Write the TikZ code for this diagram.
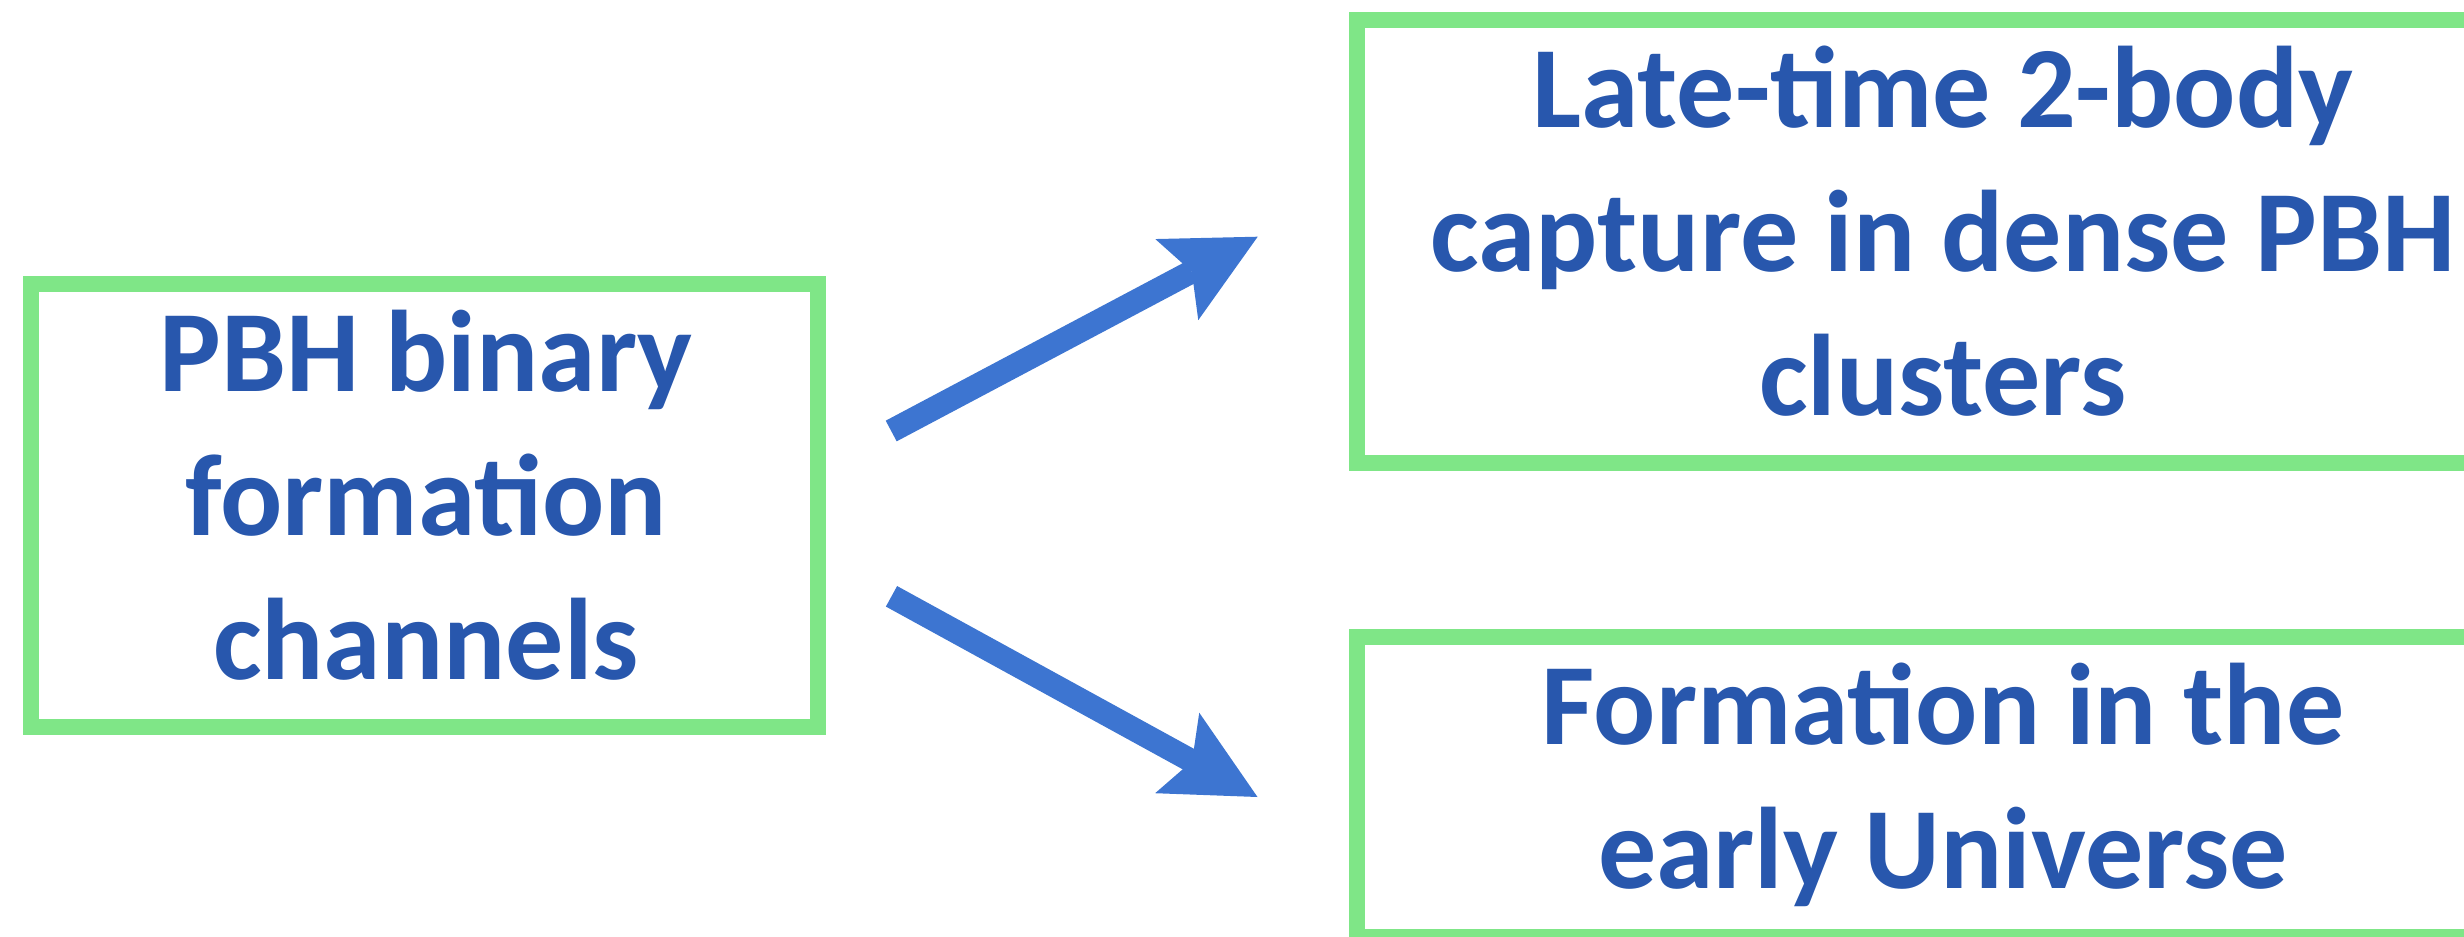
\documentclass[tikz,border=0pt]{standalone}
\usepackage{fontspec}
\setmainfont{Carlito}
\usetikzlibrary{arrows.meta}
\definecolor{boxgreen}{RGB}{127,230,135}
\definecolor{textblue}{RGB}{40,87,173}
\definecolor{arrowblue}{RGB}{61,117,209}
\newcommand{\lines}[1]{\begin{tabular}[t]{@{}c@{}}#1\end{tabular}}
\begin{document}
\begin{tikzpicture}[x=0.5pt,y=-0.5pt,
  box/.style={draw=boxgreen, line width=8pt, rectangle, inner sep=0pt},
  lbl/.style={anchor=base, inner sep=0pt, text=textblue,
    font=\bfseries\fontsize{58pt}{72pt}\selectfont},
  conn/.style={draw=arrowblue, line width=11.7pt,
    -{Stealth[length=45.8pt,width=45.9pt,inset=8.5pt,line width=0pt]}}]
\useasboundingbox (0,0) rectangle (2464,937);
\clip (0,0) rectangle (2464,937);
% boxes
\node[box, minimum width=393.5pt, minimum height=221.65pt] (src) at (424.8,505.7) {};
\node[box, minimum width=586pt, minimum height=221.5pt] (late) at (1943,241.5) {};
\node[box, minimum width=586pt, minimum height=150pt] (early) at (1943,787) {};
% texts (anchored at the baseline of the first line)
\node[lbl] (srcT) at (426,391) {\lines{PBH binary\\formation\\channels}};
\node[lbl] (lateT) at (1943,127) {\lines{Late-time 2-body\\capture in dense PBH\\clusters}};
\node[lbl] (earlyT) at (1943,744.3) {\lines{Formation in the\\early Universe}};
% arrows
\coordinate (t1) at (891.2,431);
\coordinate (h1) at (1257.7,236.7);
\coordinate (t2) at (891.5,596.3);
\coordinate (h2) at (1257.5,797);
\draw[conn] (t1) -- (h1);
\draw[conn] (t2) -- (h2);
\end{tikzpicture}
\end{document}
